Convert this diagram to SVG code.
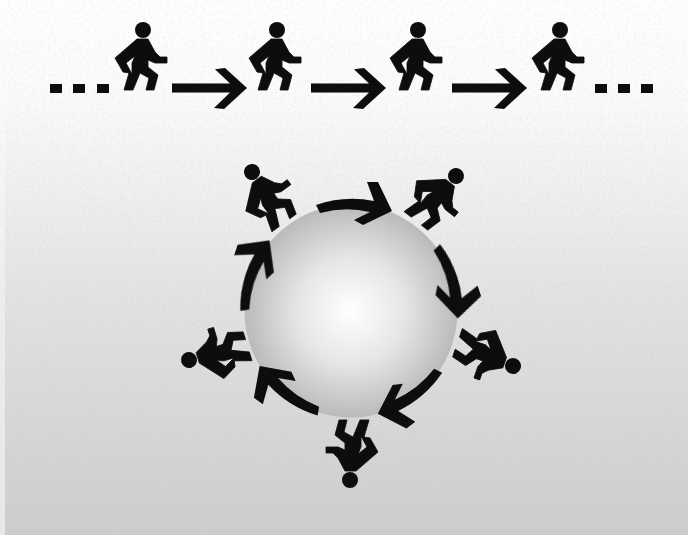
<svg xmlns="http://www.w3.org/2000/svg" width="688" height="535" viewBox="0 0 688 535">
<defs>
<linearGradient id="bg" x1="0" y1="0" x2="0" y2="1"><stop offset="0" stop-color="#ffffff"/><stop offset="0.18" stop-color="#fbfbfb"/><stop offset="0.55" stop-color="#e3e3e3"/><stop offset="1" stop-color="#cdcdcd"/></linearGradient>
<radialGradient id="ball" cx="0.5" cy="0.5" r="0.5"><stop offset="0" stop-color="#ffffff"/><stop offset="0.5" stop-color="#e6e6e6"/><stop offset="1" stop-color="#bababa"/></radialGradient>
<filter id="soft" x="-5%" y="-5%" width="110%" height="110%"><feGaussianBlur stdDeviation="0.6"/></filter>
<filter id="grain" x="0" y="0" width="100%" height="100%"><feTurbulence type="fractalNoise" baseFrequency="0.35" numOctaves="2" seed="4"/><feColorMatrix values="0 0 0 0 0.5 0 0 0 0 0.5 0 0 0 0 0.5 1.2 0 0 0 -0.45"/></filter>
<linearGradient id="fade" x1="0" y1="0" x2="0" y2="1"><stop offset="0" stop-color="#fff" stop-opacity="0"/><stop offset="0.3" stop-color="#fff" stop-opacity="0.3"/><stop offset="1" stop-color="#fff" stop-opacity="0.55"/></linearGradient>
<g id="walker"><circle cx="0" cy="0" r="8"/><path fill-rule="evenodd" stroke="#0a0a0a" stroke-width="0.8" stroke-linejoin="round" d="M-6 9L5 9L12 22L17 27L24 27L24 33L12 33L5 30L5 37L15 45L11 60L3 60L6 48L-3 43L-10 60L-19 60L-14 43L-20 42L-28 28ZM-8 26L-17 33L-11 44L-11 33Z"/></g>
<path id="straight" d="M0 -4.5H58L43 -18.7L53 -20L75 0L52 21L42 20L58 4.5H0Z"/>
<path id="curved" d="M316 205A112 112 0 0 1 374 201L367 182L378 182L392 211L363 225L354 220L370 212A102 102 0 0 0 320 213Z"/>
</defs>
<style>.ink{fill:#0a0a0a}</style>
<rect id="background" width="688" height="535" fill="url(#bg)"/>
<rect id="noise" width="688" height="535" filter="url(#grain)" opacity="0.22"/>
<rect id="edge" width="5" height="535" fill="url(#fade)"/>
<circle id="sphere" cx="351" cy="311" r="106.5" fill="url(#ball)"/>
<g id="dots-left" class="ink" filter="url(#soft)"><rect x="50" y="84" width="12" height="9"/><rect x="73" y="84" width="12" height="9"/><rect x="97" y="84" width="12" height="9"/></g>
<g id="dots-right" class="ink" filter="url(#soft)"><rect x="595" y="84" width="12" height="9"/><rect x="618" y="84" width="12" height="9"/><rect x="641" y="84" width="12" height="9"/></g>
<g id="row-walker-1" class="ink" filter="url(#soft)"><use href="#walker" x="143" y="30"/></g>
<g id="row-walker-2" class="ink" filter="url(#soft)"><use href="#walker" x="277" y="30"/></g>
<g id="row-walker-3" class="ink" filter="url(#soft)"><use href="#walker" x="418" y="30"/></g>
<g id="row-walker-4" class="ink" filter="url(#soft)"><use href="#walker" x="560" y="30"/></g>
<g id="ring-walker-1" class="ink" filter="url(#soft)"><use href="#walker" transform="translate(252 172) rotate(-36)"/></g>
<g id="ring-walker-2" class="ink" filter="url(#soft)"><use href="#walker" transform="translate(456 176) rotate(38)"/></g>
<g id="ring-walker-3" class="ink" filter="url(#soft)"><use href="#walker" transform="translate(513 366) rotate(109)"/></g>
<g id="ring-walker-4" class="ink" filter="url(#soft)"><use href="#walker" transform="translate(350 480) rotate(180)"/></g>
<g id="ring-walker-5" class="ink" filter="url(#soft)"><use href="#walker" transform="translate(189 360) rotate(253)"/></g>
<g id="connectors" class="ink" filter="url(#soft)">
<use href="#straight" x="172" y="88"/><use href="#straight" x="311" y="88"/><use href="#straight" x="452" y="88"/>
<use href="#curved"/>
<use href="#curved" transform="rotate(72 351 310)"/>
<use href="#curved" transform="rotate(143 351 310)"/>
<use href="#curved" transform="rotate(216 351 310)"/>
<use href="#curved" transform="rotate(288 351 310)"/>
</g>
</svg>
